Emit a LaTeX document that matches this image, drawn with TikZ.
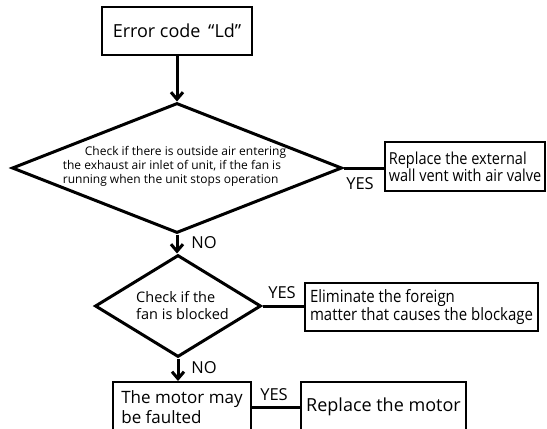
\documentclass[tikz,border=0pt]{standalone}
\usepackage{fontspec}
\setmainfont{Open Sans}
\newfontfamily\narrowfont{Open Sans}[FakeStretch=0.88]
\usetikzlibrary{shapes.geometric,arrows.meta}

\begin{document}
\begin{tikzpicture}[x=1pt, y=-1pt,
    box/.style={draw, rectangle, line width=2pt, inner xsep=2pt, inner ysep=0pt, align=left},
    check/.style={draw, diamond, line width=3pt, inner sep=0pt},
    flow/.style={line width=3pt, -{Straight Barb[length=7pt,width=12pt]}},
    link/.style={line width=3pt},
    answer/.style={inner sep=0pt, font=\fontsize{16.5}{18}\selectfont}]

    \useasboundingbox (0,0) rectangle (547,429);
    \clip (0,0) rectangle (547,429);

    %% Start
    \node[box, minimum width=150pt, minimum height=48pt, align=center,
          font=\fontsize{18}{20}\selectfont] (err) at (177,31) {Error code \,“Ld”};

    %% Outside air check
    \node[check, minimum width=330pt, minimum height=130pt] (air) at (177,168) {};
    \node[align=left, inner sep=0pt, font=\fontsize{12}{14}\selectfont] (airtext) at (174.5,166.5)
        {\hspace*{22pt}Check if there is outside air entering\\
         the exhaust air inlet of unit, if the fan is\\
         running when the unit stops operation};
    \draw[flow] (err.south) -- (err.south |- air.north);

    % Wall vent
    \node[box, minimum width=160pt, minimum height=49pt,
          font=\narrowfont\fontsize{16.5}{17}\selectfont] (vent) at (465,166.5)
        {Replace the external\\wall vent with air valve};
    \draw[link] (air.east) -- (air.east -| vent.west);
    \node[answer] (yes1) at (360,184) {YES};

    %% Blocked fan check
    \node[check, minimum width=166pt, minimum height=102pt] (fan) at (178,306) {};
    \node[align=left, inner sep=0pt, font=\fontsize{14.5}{17}\selectfont] (fantext) at (182.5,305.5)
        {Check if the\\fan is blocked};
    \draw[flow] (air.south) -- (air.south |- fan.north);
    \node[answer] (no1) at (204,243) {NO};

    % Foreign matter
    \node[box, minimum width=233pt, minimum height=48pt,
          font=\narrowfont\fontsize{17}{16.5}\selectfont] (clear) at (421.5,307)
        {Eliminate the foreign\\matter that causes the blockage};
    \draw[link] (fan.east) -- (fan.east -| clear.west);
    \node[answer] (yes2) at (282,293) {YES};

    %% Motor
    \node[box, minimum width=138pt, minimum height=50pt,
          font=\fontsize{17}{20}\selectfont] (motor) at (182,407)
        {The motor may\\be faulted};
    \draw[flow] (fan.south) -- (fan.south |- motor.north);
    \node[answer] (no2) at (204,368) {NO};

    \node[box, minimum width=165pt, minimum height=50pt, align=center,
          font=\fontsize{18}{20}\selectfont] (newmotor) at (383.5,407) {Replace the motor};
    \draw[link] (motor.east) -- (newmotor.west);
    \node[answer] (yes3) at (274,395) {YES};

\end{tikzpicture}
\end{document}
